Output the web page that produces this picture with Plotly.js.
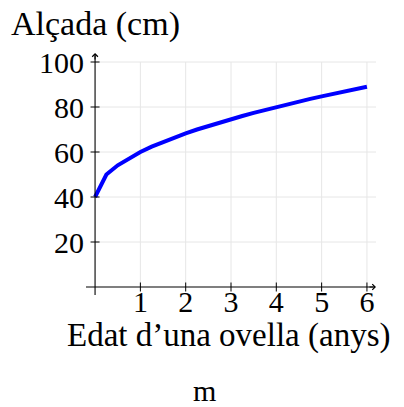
<!DOCTYPE html>
<html>
<head>
<meta charset="utf-8">
<script src="https://cdn.plot.ly/plotly-3.0.1.min.js"></script>
<style>html,body{margin:0;padding:0;background:#fff;}#chart{width:404px;height:407px;}</style>
</head>
<body>
<div id="chart"></div>
<script>
// Data
const ageYears = [0, 0.25, 0.5, 0.75, 1, 1.25, 1.5, 1.75, 2, 2.25, 2.5, 2.75, 3, 3.25, 3.5, 3.75, 4, 4.25, 4.5, 4.75, 5, 5.25, 5.5, 5.75, 6];
const heightCm = [40, 50, 54.1, 57.3, 60, 62.4, 64.5, 66.5, 68.3, 70, 71.6, 73.2, 74.6, 76, 77.4, 78.7, 80, 81.2, 82.4, 83.6, 84.7, 85.8, 86.9, 88, 89];
const xTicks = [1, 2, 3, 4, 5, 6];
const xTickLabels = ['1', '2', '3', '4', '5', '6'];
const yTicks = [20, 40, 60, 80, 100];
const yTickLabels = ['20', '40', '60', '80', '100'];
const yAxisTitle = 'Alçada (cm)';
const xAxisTitle = 'Edat d\u2019una ovella (anys)';
const captionText = 'm';

const FONT = 'Liberation Serif';
const X_RANGE = [-0.2, 6.2];
const Y_RANGE = [0, 104];
const GRID_X_MAX = 6.2;
const GRID_Y_MAX = 100;
const Y_AXIS_BOTTOM = -3.5;

const shapes = [];
// grid
yTicks.forEach(v => shapes.push({type:'line', layer:'below', xref:'x', yref:'y', x0:0, x1:GRID_X_MAX, y0:v, y1:v, line:{color:'#e6e6e6', width:1}}));
xTicks.forEach(v => shapes.push({type:'line', layer:'below', xref:'x', yref:'y', x0:v, x1:v, y0:0, y1:GRID_Y_MAX, line:{color:'#e6e6e6', width:1}}));
// axis lines
shapes.push({type:'line', layer:'above', xref:'x', yref:'paper', x0:X_RANGE[0], x1:X_RANGE[1]-0.05, y0:0, y1:0, line:{color:'#000', width:1.1}});
shapes.push({type:'line', layer:'above', xref:'x', yref:'paper', x0:0, x1:0, y0:Y_AXIS_BOTTOM/(Y_RANGE[1]-Y_RANGE[0]), y1:0.99, line:{color:'#000', width:1.1}});
// ticks crossing the axes
yTicks.forEach(v => shapes.push({type:'line', layer:'above', xref:'x', yref:'y', xsizemode:'pixel', xanchor:0, x0:-4.5, x1:4.5, y0:v, y1:v, line:{color:'#000', width:1}}));
xTicks.forEach(v => shapes.push({type:'line', layer:'above', xref:'x', yref:'paper', ysizemode:'pixel', yanchor:0, y0:-4.5, y1:4.5, x0:v, x1:v, line:{color:'#000', width:1}}));

const annotations = [
  // arrow heads
  {xref:'x', yref:'y', x:X_RANGE[1], y:0, ax:-8, ay:0, text:'', showarrow:true, arrowhead:4, arrowsize:1, arrowwidth:1.1, arrowcolor:'#000'},
  {xref:'x', yref:'y', x:0, y:Y_RANGE[1], ax:0, ay:8, text:'', showarrow:true, arrowhead:4, arrowsize:1, arrowwidth:1.1, arrowcolor:'#000'},
  // titles
  {xref:'paper', yref:'paper', x:-0.2655, y:1.124, xanchor:'left', yanchor:'middle', text:yAxisTitle, showarrow:false, font:{family:FONT, size:34, color:'#000'}},
  {xref:'paper', yref:'paper', x:0.4897, y:-0.206, xanchor:'center', yanchor:'middle', text:xAxisTitle, showarrow:false, font:{family:FONT, size:33, color:'#000'}},
  {xref:'paper', yref:'paper', x:0.4103, y:-0.444, xanchor:'center', yanchor:'middle', text:captionText, showarrow:false, font:{family:FONT, size:30, color:'#000'}}
];

const trace = {
  x: ageYears, y: heightCm, type:'scatter', mode:'lines',
  line:{color:'#0000ff', width:4},
  hoverinfo:'skip', cliponaxis:false
};

const layout = {
  width:404, height:407,
  margin:{l:86, r:28, t:53, b:120, pad:0},
  paper_bgcolor:'#fff', plot_bgcolor:'#fff',
  showlegend:false,
  font:{family:FONT, size:29, color:'#000'},
  xaxis:{range:X_RANGE, tickvals:xTicks, ticktext:xTickLabels, showgrid:false, zeroline:false, showline:false, ticks:'', ticklabelstandoff:-6, tickfont:{family:FONT, size:30, color:'#000'}, fixedrange:true},
  yaxis:{range:Y_RANGE, tickvals:yTicks, ticktext:yTickLabels, showgrid:false, zeroline:false, showline:false, ticks:'', ticklabelstandoff:1, tickfont:{family:FONT, size:30, color:'#000'}, fixedrange:true},
  shapes: shapes,
  annotations: annotations
};

Plotly.newPlot('chart', [trace], layout, {staticPlot:true, displayModeBar:false});
</script>
</body>
</html>
